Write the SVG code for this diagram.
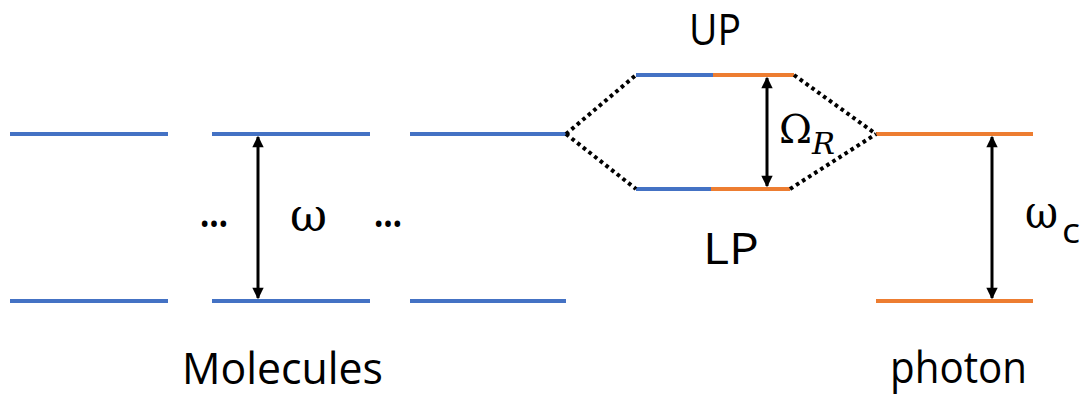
<svg xmlns="http://www.w3.org/2000/svg" width="1086" height="396" viewBox="0 0 1086 396">
  <style>
    .blue { stroke: #4472C4; stroke-width: 4; fill: none; }
    .orange { stroke: #ED7D31; stroke-width: 4; fill: none; }
    .dot { stroke: #000; stroke-width: 4; stroke-dasharray: 3.6 3.6; fill: none; }
    .arr { stroke: #000; stroke-width: 3; fill: none; marker-start: url(#head); marker-end: url(#head); }
    text { font-family: "Open Sans", "Liberation Sans", sans-serif; fill: #000; }
    .lbl { font-size: 44px; }
    .sym { font-family: "DejaVu Serif", "Liberation Serif", serif; }
  </style>
  <defs>
    <marker id="head" viewBox="0 0 10 10" refX="9" refY="5" markerWidth="4.4" markerHeight="3.8" orient="auto-start-reverse" markerUnits="strokeWidth">
      <path d="M0,0 L10,5 L0,10 Z" fill="#000"/>
    </marker>
  </defs>

  <!-- molecular levels -->
  <g id="mol1">
    <line class="blue" x1="10" y1="134" x2="168" y2="134"/>
    <line class="blue" x1="10" y1="301" x2="168" y2="301"/>
  </g>
  <g id="mol2">
    <line class="blue" x1="212" y1="134" x2="370" y2="134"/>
    <line class="blue" x1="212" y1="301" x2="370" y2="301"/>
  </g>
  <g id="mol3">
    <line class="blue" x1="410" y1="134" x2="566" y2="134"/>
    <line class="blue" x1="410" y1="301" x2="566" y2="301"/>
  </g>
  <g id="dots">
    <text x="214" y="227" text-anchor="middle" font-size="40" font-weight="bold" textLength="28" lengthAdjust="spacingAndGlyphs">…</text>
    <text x="388" y="227" text-anchor="middle" font-size="40" font-weight="bold" textLength="28" lengthAdjust="spacingAndGlyphs">…</text>
  </g>

  <!-- polariton levels -->
  <g id="upper">
    <line class="blue" x1="636" y1="75" x2="714" y2="75"/>
    <line class="orange" x1="713" y1="75" x2="794" y2="75"/>
    <text class="lbl" x="715" y="45" text-anchor="middle" textLength="52" lengthAdjust="spacingAndGlyphs">UP</text>
  </g>
  <g id="lower">
    <line class="blue" x1="636" y1="189" x2="712" y2="189"/>
    <line class="orange" x1="711" y1="189" x2="790" y2="189"/>
    <text class="lbl" x="731" y="264" text-anchor="middle" textLength="56" lengthAdjust="spacingAndGlyphs">LP</text>
  </g>

  <!-- cavity photon -->
  <g id="photon">
    <line class="orange" x1="876" y1="134" x2="1033" y2="134"/>
    <line class="orange" x1="876" y1="301" x2="1033" y2="301"/>
  </g>

  <!-- connectors -->
  <g id="connectors">
    <line class="dot" x1="566" y1="134" x2="636" y2="75"/>
    <line class="dot" x1="566" y1="134" x2="636" y2="189"/>
    <line class="dot" x1="794" y1="75" x2="876" y2="134"/>
    <line class="dot" x1="790" y1="189" x2="876" y2="134"/>
    <line class="arr" x1="258" y1="137" x2="258" y2="298"/>
    <line class="arr" x1="767" y1="78" x2="767" y2="186"/>
    <line class="arr" x1="992" y1="137" x2="992" y2="298"/>
  </g>

  <!-- energy labels -->
  <g id="labels">
    <text class="sym" x="290" y="231" font-size="46" textLength="37" lengthAdjust="spacingAndGlyphs">ω</text>
    <text class="sym" x="779" y="143" font-size="40" textLength="33" lengthAdjust="spacingAndGlyphs">Ω</text>
    <text class="sym" x="812" y="154" font-size="30" font-style="italic" textLength="23" lengthAdjust="spacingAndGlyphs">R</text>
    <text class="sym" x="1025" y="228" font-size="46" textLength="33" lengthAdjust="spacingAndGlyphs">ω</text>
    <text x="1062" y="243" font-size="34" textLength="18" lengthAdjust="spacingAndGlyphs">c</text>
    <text class="lbl" x="182" y="384" textLength="201" lengthAdjust="spacingAndGlyphs">Molecules</text>
    <text class="lbl" x="890" y="383" textLength="137" lengthAdjust="spacingAndGlyphs">photon</text>
  </g>
</svg>
